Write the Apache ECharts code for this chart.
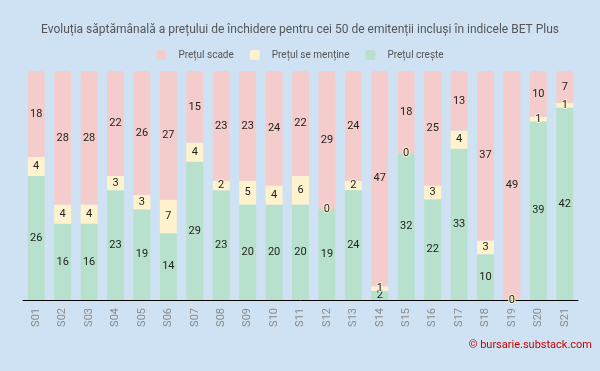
<!DOCTYPE html>
<html>
<head>
<meta charset="utf-8">
<script src="https://cdn.jsdelivr.net/npm/echarts@6/dist/echarts.min.js"></script>
<style>
html,body{margin:0;padding:0;background:#cfe2f3;}
#c{width:600px;height:371px;}
</style>
</head>
<body>
<div id="c"></div>
<script>
const weeks = ['S01','S02','S03','S04','S05','S06','S07','S08','S09','S10','S11','S12','S13','S14','S15','S16','S17','S18','S19','S20','S21'];
const up    = [26,16,16,23,19,14,29,23,20,20,20,19,24,2,32,22,33,10,0,39,42];
const flat  = [4,4,4,3,3,7,4,2,5,4,6,0,2,1,0,3,4,3,0,1,1];
const down  = [18,28,28,22,26,27,15,23,23,24,22,29,24,47,18,25,13,37,49,10,7];
const seriesNames = ['Prețul crește','Prețul se menține','Prețul scade'];
const legendOrder = ['Prețul scade','Prețul se menține','Prețul crește'];
const colors = ['#b7e1cd','#fff2cc','#f4cccc'];

const raw = [up, flat, down];
const totals = weeks.map((w,i)=>up[i]+flat[i]+down[i]);

const chart = echarts.init(document.getElementById('c'));
const series = raw.map((arr,k)=>({
  name: seriesNames[k],
  type: 'bar',
  stack: 'all',
  barWidth: '64%',
  itemStyle: {color: colors[k], borderRadius: k===2 ? [3,3,0,0] : 0},
  label: {
    show: true,
    position: 'inside',
    color: '#222',
    fontSize: 11,
    fontFamily: 'Roboto',
    textBorderColor: colors[k],
    textBorderWidth: 2,
    formatter: p => String(arr[p.dataIndex])
  },
  data: arr.map((v,i)=> v/totals[i]*100)
}));

chart.setOption({
  backgroundColor: '#cfe2f3',
  color: colors,
  animation: false,
  title: {
    text: 'Evoluția săptămânală a prețului de închidere pentru cei 50 de emitenții incluși în indicele BET Plus',
    left: 'center', top: 19,
    textStyle: {fontFamily: 'Roboto', fontSize: 12, fontWeight: 'normal', color: '#555'}
  },
  legend: {
    data: legendOrder,
    top: 45, left: 'center',
    icon: 'roundRect', itemWidth: 10, itemHeight: 10, itemGap: 16,
    textStyle: {fontFamily: 'Roboto', fontSize: 10, color: '#555', padding: [0,0,0,7]}
  },
  grid: {left: 23, right: 22, top: 71, bottom: 71},
  xAxis: {
    type: 'category', data: weeks,
    axisLine: {lineStyle: {color: '#000'}},
    axisTick: {show: false},
    axisLabel: {rotate: 90, color: '#8a8a8a', fontFamily: 'Roboto', fontSize: 11, margin: 8}
  },
  yAxis: {type: 'value', min: 0, max: 100, show: false},
  graphic: [{
    type: 'text', right: 8, top: 340,
    style: {text: '© bursarie.substack.com', fill: '#cc0000', font: '11px Roboto'}
  }],
  series: series
});
</script>
</body>
</html>
